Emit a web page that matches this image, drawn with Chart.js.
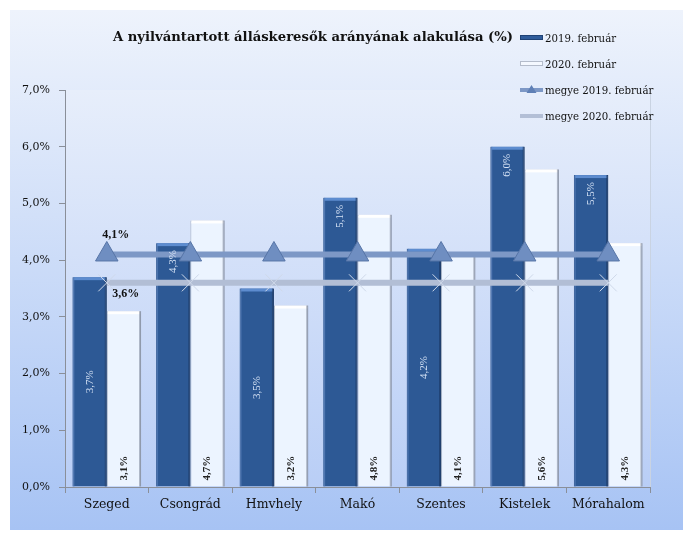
<!DOCTYPE html>
<html>
<head>
<meta charset="utf-8">
<script src="https://cdn.jsdelivr.net/npm/chart.js@4/dist/chart.umd.min.js"></script>
<style>
  html, body { margin: 0; padding: 0; background: #fff; }
  #wrap { width: 683px; height: 538px; position: relative; }
</style>
</head>
<body>
<div id="wrap"><canvas id="chart" width="683" height="538"></canvas></div>
<script>
// values
const categories = ['Szeged', 'Csongrád', 'Hmvhely', 'Makó', 'Szentes', 'Kistelek', 'Mórahalom'];
const feb2019 = [3.7, 4.3, 3.5, 5.1, 4.2, 6.0, 5.5];
const feb2020 = [3.1, 4.7, 3.2, 4.8, 4.1, 5.6, 4.3];
const megye2019 = [4.1, 4.1, 4.1, 4.1, 4.1, 4.1, 4.1];
const megye2020 = [3.6, 3.6, 3.6, 3.6, 3.6, 3.6, 3.6];
const seriesNames = ['2019. február', '2020. február', 'megye 2019. február', 'megye 2020. február'];
const titleText = 'A nyilvántartott álláskeresők arányának alakulása (%)';

// where the dark bar labels sit (excel had them placed by hand)
const darkLabelAnchor = ['center', 'end', 'center', 'end', 'center', 'end', 'end'];

const SERIF = '"DejaVu Serif", "Liberation Serif", serif';
const SERIF2 = '"Liberation Serif", "DejaVu Serif", serif';

function pct(v) {
  return v.toFixed(1).replace('.', ',') + '%';
}

// panel background, plot fill, title and legend
const backdrop = {
  id: 'backdrop',
  beforeDraw(chart) {
    const ctx = chart.ctx;
    const a = chart.chartArea;
    ctx.save();
    let g = ctx.createLinearGradient(0, 10, 0, 530);
    g.addColorStop(0, '#eef3fc');
    g.addColorStop(1, '#a7c3f4');
    ctx.fillStyle = g;
    ctx.fillRect(10, 10, 673, 520);

    g = ctx.createLinearGradient(0, a.top, 0, a.bottom);
    g.addColorStop(0, '#e7eefb');
    g.addColorStop(1, '#b9cef6');
    ctx.fillStyle = g;
    ctx.fillRect(a.left, a.top, a.right - a.left, a.bottom - a.top);

    ctx.strokeStyle = '#c9d3e2';
    ctx.lineWidth = 1;
    ctx.beginPath();
    ctx.moveTo(a.right + 0.5, a.top);
    ctx.lineTo(a.right + 0.5, a.bottom);
    ctx.stroke();
    ctx.restore();
  },
  afterDraw(chart) {
    const ctx = chart.ctx;
    ctx.save();
    ctx.fillStyle = '#111';
    ctx.font = 'bold 13.2px ' + SERIF;
    ctx.textAlign = 'center';
    ctx.textBaseline = 'middle';
    ctx.fillText(titleText, 313, 38);

    // legend
    const x0 = 520, sw = 23;
    ctx.font = '10.2px ' + SERIF;
    ctx.textAlign = 'left';
    seriesNames.forEach(function (name, i) {
      const y = 38 + i * 26;
      if (i === 0) {
        ctx.fillStyle = '#2f5c9b';
        ctx.fillRect(x0, y - 3, sw, 5);
        ctx.strokeStyle = '#1f4275';
        ctx.strokeRect(x0 + 0.5, y - 2.5, sw - 1, 4);
      } else if (i === 1) {
        ctx.fillStyle = '#f4f8ff';
        ctx.fillRect(x0, y - 3, sw, 5);
        ctx.strokeStyle = '#b4bccb';
        ctx.strokeRect(x0 + 0.5, y - 2.5, sw - 1, 4);
      } else if (i === 2) {
        ctx.strokeStyle = '#7d98c6';
        ctx.lineWidth = 4;
        ctx.beginPath();
        ctx.moveTo(x0, y);
        ctx.lineTo(x0 + sw, y);
        ctx.stroke();
        ctx.fillStyle = '#5f80b6';
        ctx.beginPath();
        ctx.moveTo(x0 + sw / 2, y - 5);
        ctx.lineTo(x0 + sw / 2 + 5, y + 3);
        ctx.lineTo(x0 + sw / 2 - 5, y + 3);
        ctx.closePath();
        ctx.fill();
      } else {
        ctx.strokeStyle = '#b3bfd6';
        ctx.lineWidth = 4;
        ctx.beginPath();
        ctx.moveTo(x0, y);
        ctx.lineTo(x0 + sw, y);
        ctx.stroke();
      }
      ctx.fillStyle = '#111';
      ctx.fillText(name, x0 + sw + 2, y + 1);
    });
    ctx.restore();
  }
};

// bevel on the bars
const bevel = {
  id: 'bevel',
  afterDatasetDraw(chart, args) {
    const ds = chart.data.datasets[args.index];
    if (ds.type !== 'bar') return;
    const ctx = chart.ctx;
    ctx.save();
    args.meta.data.forEach(function (el) {
      const p = el.getProps(['x', 'y', 'base', 'width'], true);
      const l = p.x - p.width / 2, r = p.x + p.width / 2;
      if (args.index === 0) {
        ctx.fillStyle = '#5d8ccf';
        ctx.fillRect(l + 1, p.y, p.width - 2, 3);
        ctx.fillStyle = 'rgba(90,130,190,0.5)';
        ctx.fillRect(l, p.y, 2, p.base - p.y);
        ctx.fillStyle = 'rgba(20,45,85,0.5)';
        ctx.fillRect(r - 2, p.y, 2, p.base - p.y);
      } else {
        ctx.fillStyle = '#ffffff';
        ctx.fillRect(l + 1, p.y, p.width - 2, 3);
        ctx.fillStyle = 'rgba(120,130,150,0.55)';
        ctx.fillRect(r - 2, p.y, 2, p.base - p.y);
      }
    });
    ctx.restore();
  }
};

// value labels
const valueLabels = {
  id: 'valueLabels',
  afterDatasetsDraw(chart) {
    const ctx = chart.ctx;
    ctx.save();
    ctx.textBaseline = 'middle';
    chart.data.datasets.forEach(function (ds, di) {
      const meta = chart.getDatasetMeta(di);
      meta.data.forEach(function (el, i) {
        const p = el.getProps(['x', 'y', 'base'], true);
        const txt = pct(ds.data[i]);
        if (di === 0) {
          ctx.save();
          ctx.font = '11px ' + SERIF2;
          ctx.fillStyle = '#d5e2f5';
          if (darkLabelAnchor[i] === 'center') {
            ctx.translate(p.x, (p.y + p.base) / 2);
            ctx.rotate(-Math.PI / 2);
            ctx.textAlign = 'center';
            ctx.fillText(txt, 0, 0);
          } else {
            ctx.translate(p.x, p.y + 7);
            ctx.rotate(-Math.PI / 2);
            ctx.textAlign = 'right';
            ctx.fillText(txt, 0, 0);
          }
          ctx.restore();
        } else if (di === 1) {
          ctx.save();
          ctx.font = 'bold 11px ' + SERIF2;
          ctx.fillStyle = '#222';
          ctx.translate(p.x, p.base - 6);
          ctx.rotate(-Math.PI / 2);
          ctx.textAlign = 'left';
          ctx.fillText(txt, 0, 0);
          ctx.restore();
        } else if (i === 0) {
          ctx.font = 'bold 12px ' + SERIF2;
          ctx.fillStyle = '#111';
          ctx.textAlign = 'center';
          if (di === 2) ctx.fillText(txt, p.x + 9, p.y - 20);
          else ctx.fillText(txt, p.x + 19, p.y + 11);
        }
      });
    });
    ctx.restore();
  }
};

new Chart(document.getElementById('chart'), {
  data: {
    labels: categories,
    datasets: [
      {
        type: 'bar', label: seriesNames[0], data: feb2019, order: 2,
        backgroundColor: '#2d5995', borderColor: '#22467b', borderWidth: 1,
        barPercentage: 1.0, categoryPercentage: 0.82
      },
      {
        type: 'bar', label: seriesNames[1], data: feb2020, order: 2,
        backgroundColor: '#ecf4ff', borderColor: '#aab4c4', borderWidth: 1,
        barPercentage: 1.0, categoryPercentage: 0.82
      },
      {
        type: 'line', label: seriesNames[2], data: megye2019, order: 0,
        borderColor: '#7d98c6', borderWidth: 6,
        pointStyle: 'triangle', pointRadius: 13,
        pointBackgroundColor: '#6f8ec1', pointBorderColor: '#5775a7', pointBorderWidth: 1
      },
      {
        type: 'line', label: seriesNames[3], data: megye2020, order: 1,
        borderColor: '#b2bed5', borderWidth: 6,
        pointStyle: 'crossRot', pointRadius: 12,
        pointBorderColor: '#cfd9ea', pointBorderWidth: 1
      }
    ]
  },
  options: {
    responsive: false,
    animation: false,
    events: [],
    layout: { padding: { top: 90, left: 10, right: 33, bottom: 21 } },
    plugins: { legend: { display: false }, title: { display: false }, tooltip: { enabled: false } },
    scales: {
      x: {
        offset: true,
        grid: { display: true, drawOnChartArea: false, drawTicks: true, tickLength: 6, color: '#8a8f99', offset: true },
        border: { display: true, color: '#8a8f99' },
        ticks: { color: '#111', font: { family: SERIF, size: 12.5 }, padding: 4, maxRotation: 0 },
        afterFit(s) { s.height = 30; }
      },
      y: {
        min: 0, max: 7,
        grid: { display: true, drawOnChartArea: false, drawTicks: true, tickLength: 6, color: '#8a8f99' },
        border: { display: true, color: '#8a8f99' },
        ticks: {
          stepSize: 1, color: '#111', padding: 9,
          font: { family: SERIF, size: 11 },
          callback: function (v) { return pct(v); }
        },
        afterFit(s) { s.width = 55; }
      }
    }
  },
  plugins: [backdrop, bevel, valueLabels]
});
</script>
</body>
</html>
